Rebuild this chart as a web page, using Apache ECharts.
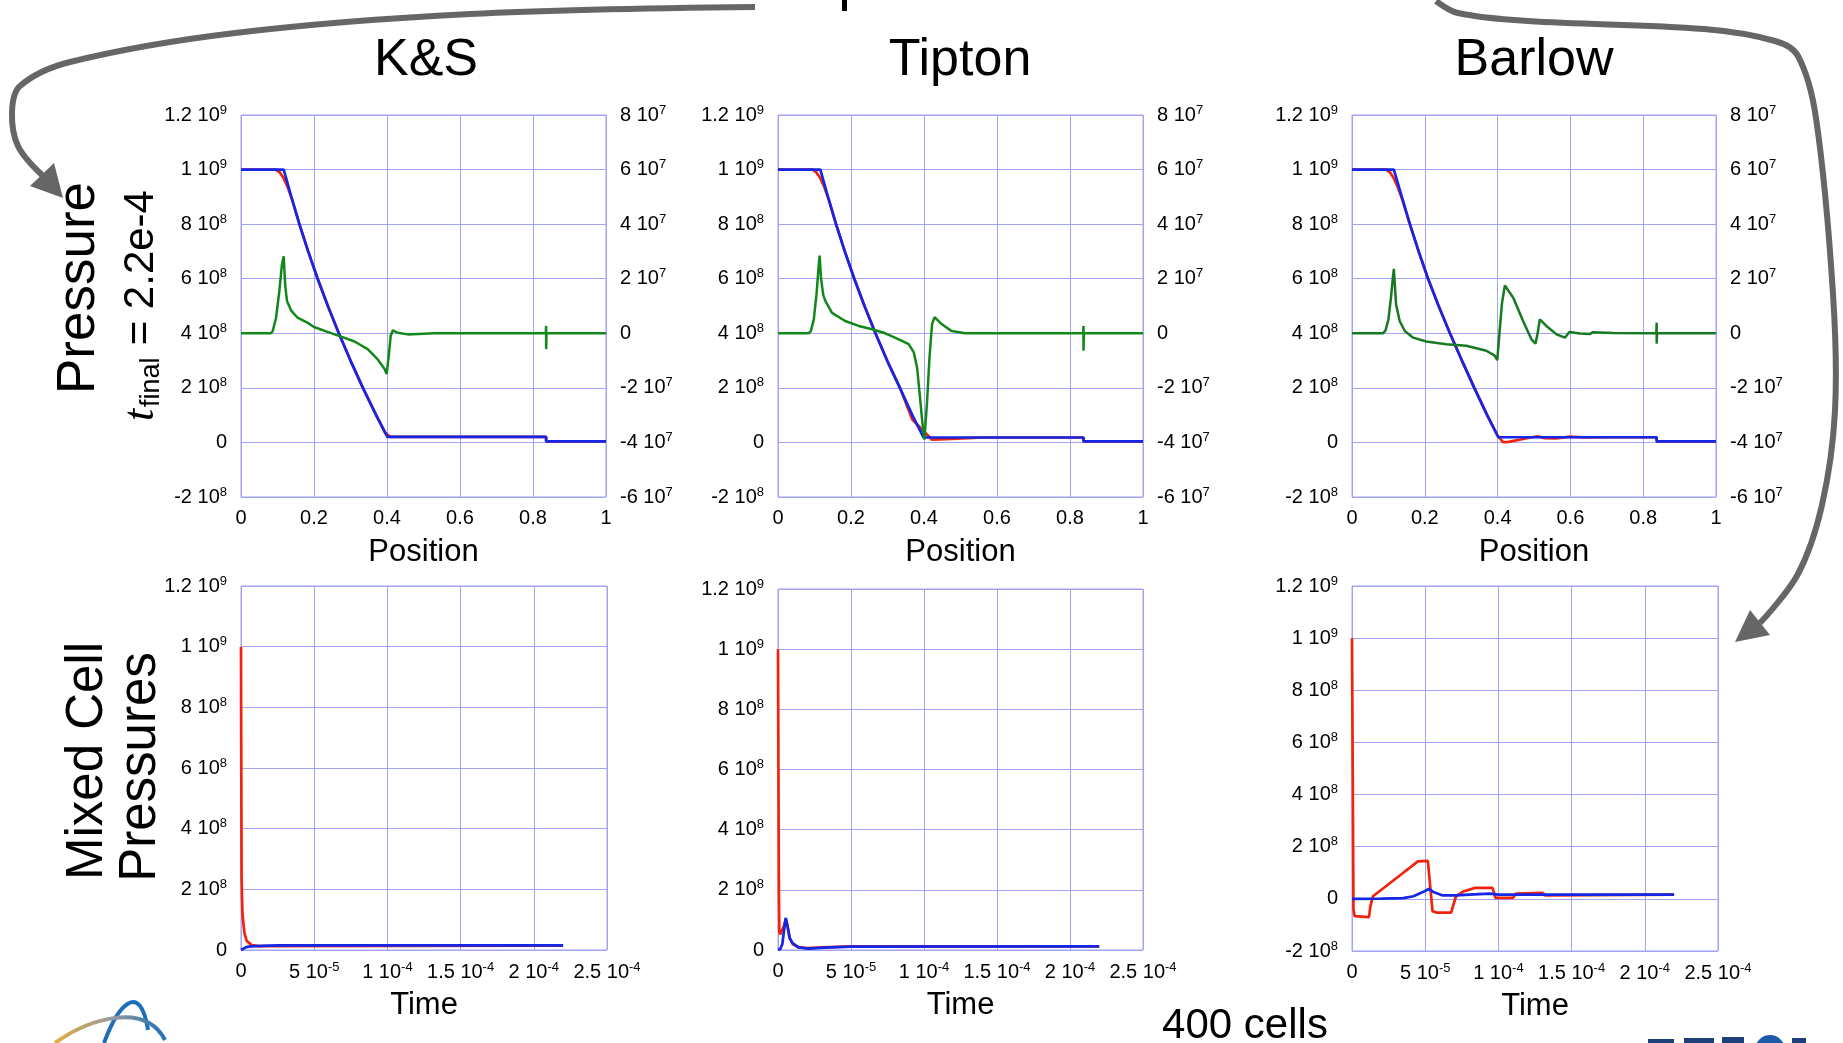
<!DOCTYPE html>
<html>
<head>
<meta charset="utf-8">
<script src="https://cdn.jsdelivr.net/npm/echarts@6/dist/echarts.min.js"></script>
<style>
html,body{margin:0;padding:0;background:#fff;}
#chart{width:1843px;height:1043px;}
</style>
</head>
<body>
<div id="chart"></div>
<script>
// ---------------- DATA ----------------
const panelTitles = ['K&S', 'Tipton', 'Barlow'];
const posTicks = { min: 0, max: 1, interval: 0.2 };
const presTicks = { min: -2e8, max: 1.2e9, interval: 2e8 };
const diffTicks = { min: -6e7, max: 8e7, interval: 2e7 };
const timeTicks = { min: 0, max: 2.5e-4, interval: 5e-5 };
const mixTicksKS = { min: 0, max: 1.2e9, interval: 2e8 };
const mixTicksTip = { min: 0, max: 1.2e9, interval: 2e8 };
const mixTicksBar = { min: -2e8, max: 1.2e9, interval: 2e8 };

// Top row: pressure vs position (red, blue: left axis; green: right axis)
const ksRed = [[0,1e9],[0.095,1e9],[0.106,0.99e9],[0.116,0.97e9],[0.128,0.935e9],[0.14,0.89e9],[0.160,8e8],[0.184,7e8],[0.210,6e8],[0.238,5e8],[0.268,4e8],[0.300,3e8],[0.334,2e8],[0.369,1.05e8],[0.395,3.5e7],[0.41,2e7],[0.836,2e7],[0.836,4e6],[1,4e6]];
const ksBlue = [[0,1e9],[0.117,1e9],[0.138,9e8],[0.160,8e8],[0.184,7e8],[0.210,6e8],[0.238,5e8],[0.268,4e8],[0.300,3e8],[0.334,2e8],[0.370,1e8],[0.401,2e7],[0.836,2e7],[0.836,4e6],[1,4e6]];
const ksGreen = [[0,0],[0.082,0],[0.087,8.5e5],[0.096,5.7e6],[0.105,1.54e7],[0.112,2.5e7],[0.117,2.82e7],[0.121,1.78e7],[0.126,1.18e7],[0.137,8.4e6],[0.155,5.7e6],[0.183,3.8e6],[0.2,2.3e6],[0.237,5e5],[0.274,-1.2e6],[0.311,-3e6],[0.347,-5.8e6],[0.374,-9.5e6],[0.393,-1.3e7],[0.399,-1.49e7],[0.405,-8e6],[0.41,-1e6],[0.416,1.1e6],[0.429,2e5],[0.457,-4e5],[0.53,0],[0.835,0],[0.836,2.7e6],[0.836,-5.8e6],[0.837,0],[1,0]];

const tipRed = [[0,1e9],[0.095,1e9],[0.105,0.99e9],[0.115,0.97e9],[0.127,0.935e9],[0.139,0.89e9],[0.159,8e8],[0.183,7e8],[0.209,6e8],[0.237,5e8],[0.267,4e8],[0.299,3e8],[0.334,2e8],[0.368,8.4e7],[0.40,4e7],[0.422,1e7],[0.46,1.2e7],[0.52,1.6e7],[0.56,1.8e7],[0.837,1.8e7],[0.837,4e6],[1,4e6]];
const tipBlue = [[0,1e9],[0.116,1e9],[0.137,9e8],[0.159,8e8],[0.183,7e8],[0.209,6e8],[0.237,5e8],[0.267,4e8],[0.299,3e8],[0.334,2e8],[0.368,1e8],[0.399,1.8e7],[0.837,1.8e7],[0.837,4e6],[1,4e6]];
const tipGreen = [[0,0],[0.084,0],[0.09,8e5],[0.098,5e6],[0.106,1.5e7],[0.111,2.4e7],[0.114,2.85e7],[0.118,2e7],[0.124,1.4e7],[0.13,1.18e7],[0.148,7.5e6],[0.184,4.5e6],[0.221,2.7e6],[0.258,1.5e6],[0.294,0],[0.331,-2.2e6],[0.358,-4e6],[0.372,-7e6],[0.381,-1.25e7],[0.388,-2.2e7],[0.395,-3.2e7],[0.401,-3.9e7],[0.408,-2.6e7],[0.415,-8.9e6],[0.422,3.3e6],[0.429,5.9e6],[0.449,3.3e6],[0.476,8e5],[0.513,0],[0.836,0],[0.837,2.7e6],[0.837,-6.4e6],[0.838,0],[1,0]];

const barRed = [[0,1e9],[0.094,1e9],[0.104,0.99e9],[0.114,0.97e9],[0.126,0.935e9],[0.138,0.89e9],[0.159,8e8],[0.183,7e8],[0.209,6e8],[0.238,5e8],[0.269,4e8],[0.302,3e8],[0.336,2e8],[0.370,1.05e8],[0.40,2.5e7],[0.415,1e6],[0.43,2e6],[0.46,1e7],[0.49,1.8e7],[0.51,2.2e7],[0.53,1.6e7],[0.56,1.5e7],[0.60,2.1e7],[0.64,1.8e7],[0.7,1.9e7],[0.837,1.9e7],[0.837,4e6],[1,4e6]];
const barBlue = [[0,1e9],[0.115,1e9],[0.137,9e8],[0.159,8e8],[0.183,7e8],[0.209,6e8],[0.238,5e8],[0.269,4e8],[0.302,3e8],[0.336,2e8],[0.371,1e8],[0.402,1.9e7],[0.837,1.9e7],[0.837,4e6],[1,4e6]];
const barGreen = [[0,0],[0.085,0],[0.092,1e6],[0.1,5e6],[0.107,1.3e7],[0.112,2e7],[0.115,2.36e7],[0.121,1.06e7],[0.131,4.5e6],[0.145,8.5e5],[0.168,-1.6e6],[0.204,-3e6],[0.259,-4e6],[0.314,-4.6e6],[0.369,-6.4e6],[0.392,-8.2e6],[0.399,-9.8e6],[0.405,0],[0.412,1.1e7],[0.42,1.75e7],[0.443,1.3e7],[0.47,4.5e6],[0.493,-2.2e6],[0.504,-3.8e6],[0.51,0],[0.516,5.1e6],[0.534,2.7e6],[0.562,-4e5],[0.585,-1.6e6],[0.597,5e5],[0.626,-1e5],[0.653,-3e5],[0.662,4e5],[0.717,1e5],[0.81,0],[0.836,0],[0.837,3.9e6],[0.837,-3.8e6],[0.838,0],[1,0]];

// Bottom row: mixed cell pressures vs time (red, blue)
const ksMixRed = [[0,1e9],[2e-7,6e8],[4e-7,2.4e8],[7e-7,1.7e8],[1e-6,1.2e8],[2.3e-6,5.7e7],[3.9e-6,3e7],[7.3e-6,1.6e7],[1.2e-5,1.3e7],[2.2e-4,1.4e7]];
const ksMixBlue = [[0,0],[1e-6,4e6],[3e-6,8e6],[5e-6,1.1e7],[1e-5,1.3e7],[2.5e-5,1.5e7],[2.2e-4,1.5e7]];

const tipMixRed = [[0,1e9],[3e-7,6e8],[6e-7,2e8],[9e-7,6e7],[1.5e-6,5.2e7],[2.7e-6,5.6e7],[4e-6,8e7],[5.3e-6,1.02e8],[6.5e-6,8e7],[8e-6,4e7],[1e-5,2e7],[1.4e-5,9e6],[2e-5,6e6],[3e-5,9e6],[5e-5,1.2e7],[2.2e-4,1.2e7]];
const tipMixBlue = [[0,0],[1.5e-6,3e6],[3e-6,2e7],[4e-6,6e7],[5.3e-6,1.07e8],[6.5e-6,8e7],[8e-6,4e7],[1e-5,2.3e7],[1.4e-5,9e6],[2.1e-5,4.5e6],[3.2e-5,8e6],[5e-5,1.1e7],[2.2e-4,1.2e7]];

const barMixRed = [[0,1e9],[1e-6,-4e7],[1.8e-6,-6.6e7],[2.5e-6,-7e7],[1.16e-5,-7e7],[1.25e-5,-3e7],[1.43e-5,1e7],[3e-5,7.8e7],[4.5e-5,1.44e8],[5.18e-5,1.46e8],[5.5e-5,-4.7e7],[5.8e-5,-5.3e7],[6.77e-5,-5.3e7],[7.1e-5,1e7],[7.6e-5,2.8e7],[8.4e-5,4.2e7],[9.6e-5,4.2e7],[9.8e-5,4e6],[1.1e-4,4e6],[1.12e-4,2e7],[1.3e-4,2.3e7],[1.32e-4,1.3e7],[1.6e-4,1.4e7],[2.2e-4,1.6e7]];
const barMixBlue = [[0,0],[2e-5,1e6],[3.5e-5,3e6],[4.2e-5,1e7],[4.8e-5,2.5e7],[5.25e-5,3.8e7],[5.6e-5,2.5e7],[6.2e-5,1.3e7],[7.1e-5,1.3e7],[8e-5,1.6e7],[9.4e-5,2e7],[1.0e-4,1.6e7],[1.2e-4,1.6e7],[2.2e-4,1.6e7]];

// ---------------- STYLE ----------------
const RED = '#f2220c', BLUE = '#1426e6', GREEN = '#12881a';
const GRIDC = '#a3a3f3';
const FONT = 'Liberation Sans';

function sci(v) {
  if (Math.abs(v) < 1e-20) return '{m|0}';
  let e = Math.floor(Math.log10(Math.abs(v)) + 1e-9);
  let m = v / Math.pow(10, e);
  m = Math.round(m * 100) / 100;
  if (Math.abs(m) >= 10) { m /= 10; e += 1; }
  return '{m|' + m + ' 10}{e|' + e + '}';
}
function dec(v) {
  return '{m|' + (Math.round(v * 100) / 100) + '}';
}
const rich = {
  m: { fontSize: 20, fontFamily: FONT, color: '#000' },
  e: { fontSize: 13, fontFamily: FONT, color: '#000', verticalAlign: 'bottom', padding: [0, 0, 10, 0] }
};

const gridsPos = [
  { left: 241, top: 115, width: 365, height: 382 },
  { left: 778, top: 115, width: 365, height: 382 },
  { left: 1352, top: 115, width: 364, height: 382 },
  { left: 241, top: 586, width: 366, height: 364 },
  { left: 778, top: 589, width: 365, height: 361 },
  { left: 1352, top: 586, width: 366, height: 365 }
];

function xAx(gi, t, name, fmt) {
  return {
    type: 'value', gridIndex: gi, min: t.min, max: t.max, interval: t.interval,
    axisLine: { show: false }, axisTick: { show: false },
    splitLine: { show: true, lineStyle: { color: GRIDC, width: 1 } },
    axisLabel: { formatter: fmt, rich: rich, margin: 11 },
    name: name, nameLocation: 'middle', nameGap: 40,
    nameTextStyle: { fontSize: 31, fontFamily: FONT, color: '#000', verticalAlign: 'top' }
  };
}
function yAx(gi, t, pos, split) {
  return {
    type: 'value', gridIndex: gi, min: t.min, max: t.max, interval: t.interval, position: pos,
    axisLine: { show: false }, axisTick: { show: false },
    splitLine: { show: split, lineStyle: { color: GRIDC, width: 1 } },
    axisLabel: { formatter: sci, rich: rich, margin: 14 }
  };
}
function line(data, color, xi, yi, w) {
  return { type: 'line', data: data, xAxisIndex: xi, yAxisIndex: yi, showSymbol: false, symbol: 'none',
    lineStyle: { color: color, width: w || 2.7 }, itemStyle: { color: color }, z: 3, silent: true };
}

const option = {
  animation: false,
  backgroundColor: '#fff',
  grid: gridsPos.map(g => Object.assign({ show: true, borderColor: GRIDC, borderWidth: 1, containLabel: false }, g)),
  xAxis: [
    xAx(0, posTicks, 'Position', dec), xAx(1, posTicks, 'Position', dec), xAx(2, posTicks, 'Position', dec),
    xAx(3, timeTicks, 'Time', sci), xAx(4, timeTicks, 'Time', sci), xAx(5, timeTicks, 'Time', sci)
  ],
  yAxis: [
    yAx(0, presTicks, 'left', true), yAx(0, diffTicks, 'right', false),
    yAx(1, presTicks, 'left', true), yAx(1, diffTicks, 'right', false),
    yAx(2, presTicks, 'left', true), yAx(2, diffTicks, 'right', false),
    yAx(3, mixTicksKS, 'left', true), yAx(4, mixTicksTip, 'left', true), yAx(5, mixTicksBar, 'left', true)
  ],
  series: [
    line(ksRed, RED, 0, 0), line(ksBlue, BLUE, 0, 0), line(ksGreen, GREEN, 0, 1, 2.5),
    line(tipRed, RED, 1, 2), line(tipBlue, BLUE, 1, 2), line(tipGreen, GREEN, 1, 3, 2.5),
    line(barRed, RED, 2, 4), line(barBlue, BLUE, 2, 4), line(barGreen, '#177a22', 2, 5, 2.5),
    line(ksMixRed, RED, 3, 6), line(ksMixBlue, BLUE, 3, 6),
    line(tipMixRed, RED, 4, 7), line(tipMixBlue, BLUE, 4, 7),
    line(barMixRed, RED, 5, 8), line(barMixBlue, BLUE, 5, 8)
  ],
  graphic: [
    // panel titles
    { type: 'text', x: 426, y: 61, style: { text: panelTitles[0], font: '52px "Liberation Sans"', fill: '#000', align: 'center', verticalAlign: 'middle' } },
    { type: 'text', x: 960, y: 61, style: { text: panelTitles[1], font: '52px "Liberation Sans"', fill: '#000', align: 'center', verticalAlign: 'middle' } },
    { type: 'text', x: 1534, y: 61, style: { text: panelTitles[2], font: '52px "Liberation Sans"', fill: '#000', align: 'center', verticalAlign: 'middle' } },
    // row labels
    { type: 'text', x: 79, y: 288, rotation: Math.PI / 2, style: { text: 'Pressure', font: '53px "Liberation Sans"', fill: '#000', align: 'center', verticalAlign: 'middle' } },
    { type: 'group', x: 141, y: 305, rotation: Math.PI / 2, children: [
      { type: 'text', x: -116, y: 0, style: { text: 't', font: 'italic 44px "Liberation Serif"', fill: '#000', align: 'left', verticalAlign: 'middle' } },
      { type: 'text', x: -102, y: 11, style: { text: 'final', font: '27px "Liberation Sans"', fill: '#000', align: 'left', verticalAlign: 'middle' } },
      { type: 'text', x: -52, y: 0, style: { text: ' = 2.2e-4', font: '42px "Liberation Sans"', fill: '#000', align: 'left', verticalAlign: 'middle' } }
    ] },
    { type: 'text', x: 88, y: 761, rotation: Math.PI / 2, style: { text: 'Mixed Cell', font: '51px "Liberation Sans"', fill: '#000', align: 'center', verticalAlign: 'middle' } },
    { type: 'text', x: 141, y: 767, rotation: Math.PI / 2, style: { text: 'Pressures', font: '51px "Liberation Sans"', fill: '#000', align: 'center', verticalAlign: 'middle' } },
    { type: 'text', x: 1245, y: 1026, style: { text: '400 cells', font: '42px "Liberation Sans"', fill: '#000', align: 'center', verticalAlign: 'middle' } },
    // clipped heading descender at top
    { type: 'rect', shape: { x: 842, y: 0, width: 5, height: 11 }, style: { fill: '#000' } },
    // left arrow
    { type: 'polyline', shape: { smooth: 0.35, points: [[755,7],[470,14],[235,33],[70,62],[20,86],[12,112],[18,146],[42,175]] }, style: { stroke: '#666', lineWidth: 6, fill: null } },
    { type: 'polygon', shape: { points: [[63,198],[30,186],[54,163]] }, style: { fill: '#666' } },
    // right arrow
    { type: 'polyline', shape: { smooth: 0.35, points: [[1436,1],[1458,13],[1528,21],[1704,29],[1775,41],[1798,56],[1816,118],[1833,294],[1835,411],[1822,505],[1798,574],[1760,623]] }, style: { stroke: '#666', lineWidth: 6, fill: null } },
    { type: 'polygon', shape: { points: [[1735,642],[1770,635],[1750,610]] }, style: { fill: '#666' } },
    // logo (bottom-left)
    { type: 'bezierCurve', shape: { x1: 104, y1: 1043, cpx1: 118, cpy1: 1005, cpx2: 140, cpy2: 980, x2: 148, y2: 1030 }, style: { stroke: '#1f6fb8', lineWidth: 4, fill: null } },
    { type: 'bezierCurve', shape: { x1: 55, y1: 1043, cpx1: 90, cpy1: 1018, cpx2: 145, cpy2: 1002, x2: 165, y2: 1040 }, style: { stroke: { type: 'linear', x: 0, y: 0, x2: 1, y2: 0, colorStops: [{ offset: 0, color: '#e5b13a' }, { offset: 0.5, color: '#9a9a9a' }, { offset: 1, color: '#1f6fb8' }] }, lineWidth: 4, fill: null } },
    // clipped logo (bottom-right)
    { type: 'rect', shape: { x: 1648, y: 1039, width: 26, height: 4 }, style: { fill: '#1d3f7a' } },
    { type: 'rect', shape: { x: 1684, y: 1038, width: 30, height: 5 }, style: { fill: '#1d3f7a' } },
    { type: 'rect', shape: { x: 1722, y: 1037, width: 22, height: 6 }, style: { fill: '#1d3f7a' } },
    { type: 'circle', shape: { cx: 1770, cy: 1050, r: 15 }, style: { fill: '#1d5aa8' } },
    { type: 'rect', shape: { x: 1792, y: 1038, width: 14, height: 5 }, style: { fill: '#1d3f7a' } }
  ]
};

const chart = echarts.init(document.getElementById('chart'), null, { renderer: 'canvas' });
chart.setOption(option);
</script>
</body>
</html>
